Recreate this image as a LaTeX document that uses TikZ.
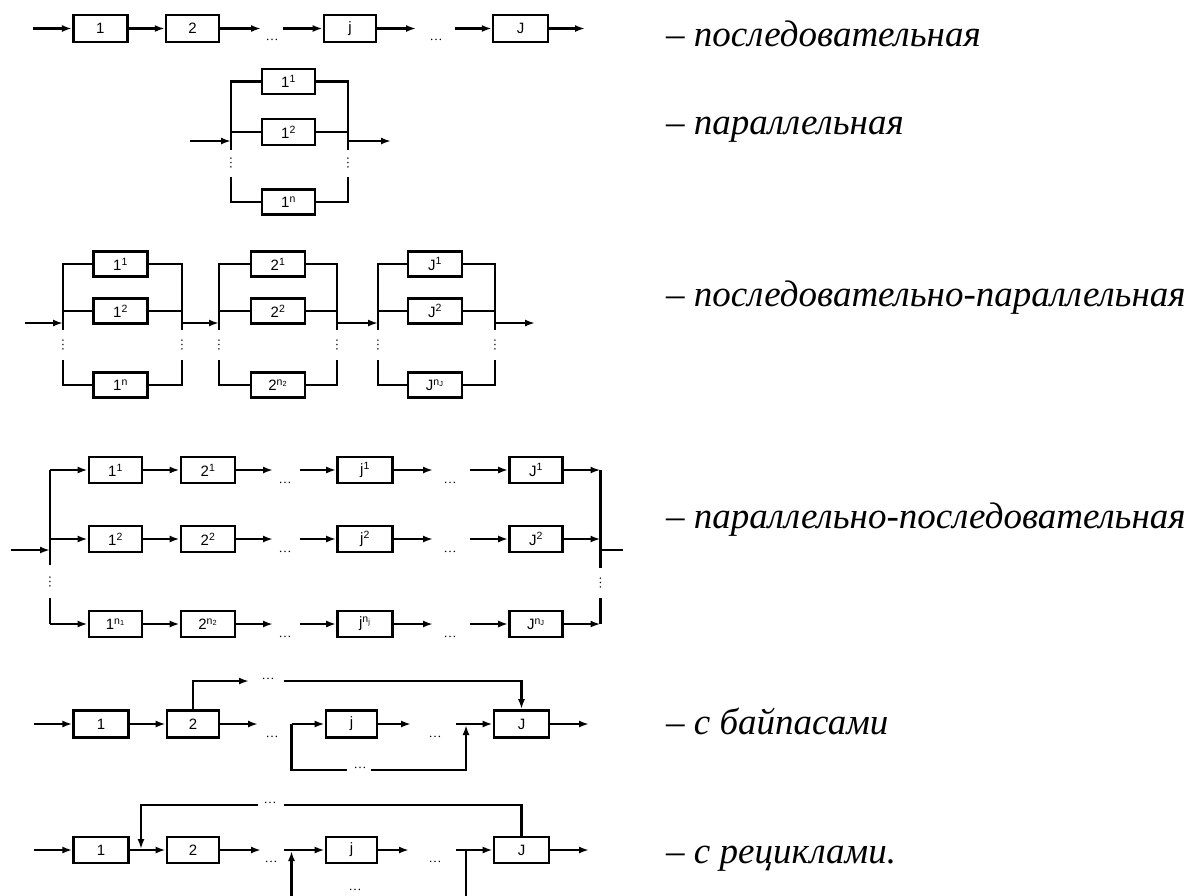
\documentclass[tikz,border=0pt]{standalone}
\usepackage{fontspec}
\setmainfont{Liberation Serif}
\newfontfamily\lblfont{Liberation Sans}
\usetikzlibrary{arrows.meta}
\tikzset{
  blk/.style={draw, line width=2.7pt, minimum width=54pt, minimum height=26pt, inner sep=0pt,
    font=\lblfont\fontsize{15}{15}\selectfont},
  ln/.style={line width=2.5pt},
  arr/.style={line width=2.5pt, -{Latex[length=10pt,width=7pt]}},
  dts/.style={inner sep=0pt, font=\fontsize{13}{13}\selectfont},
  vdts/.style={inner sep=0pt, font=\fontsize{13}{13}\selectfont, rotate=90},
  captxt/.style={anchor=base west, inner sep=0pt, font=\fontsize{37}{42}\selectfont\itshape},
}
\begin{document}
\begin{tikzpicture}[x=1pt,y=-1pt]
\useasboundingbox (0,0) rectangle (1196,895);

% ---------- series ----------
\node[blk, minimum width=54pt, minimum height=27pt] (s1) at (100.3,28.5) {1};
\node[blk, minimum width=53pt, minimum height=27pt] (s2) at (192.6,28.5) {2};
\node[blk, minimum width=52pt, minimum height=27pt] (sj) at (350,28.5) {j};
\node[blk, minimum width=55pt, minimum height=27pt] (sJ) at (520.6,28.5) {J};
\coordinate (s0) at (33,28.5);
\coordinate (s2e) at (261,28.5);
\coordinate (sjs) at (283,28.5);
\coordinate (sje) at (416,28.5);
\coordinate (sJs) at (455,28.5);
\coordinate (sout) at (585,28.5);
\node[dts] (sd1) at (272,40) {\ldots};
\node[dts] (sd2) at (436,40) {\ldots};
\draw[arr] (s0) -- (s1);
\draw[arr] (s1) -- (s2);
\draw[arr] (s2) -- (s2e);
\draw[arr] (sjs) -- (sj);
\draw[arr] (sj) -- (sje);
\draw[arr] (sJs) -- (sJ);
\draw[arr] (sJ) -- (sout);

% ---------- parallel ----------
\node[blk, minimum width=53pt, minimum height=25pt] (p1) at (288.5,81.5) {1\textsuperscript{1}};
\node[blk, minimum width=53pt, minimum height=26pt] (p2) at (288.5,132) {1\textsuperscript{2}};
\node[blk, minimum width=53pt, minimum height=25pt] (pn) at (288.5,202) {1\textsuperscript{n}};
\coordinate (pLt) at (231,81.5); \coordinate (pLm) at (231,150);
\coordinate (pLb) at (231,177);  \coordinate (pLn) at (231,202);
\coordinate (pRt) at (348,81.5); \coordinate (pRm) at (348,150);
\coordinate (pRb) at (348,177);  \coordinate (pRn) at (348,202);
\coordinate (pin) at (190,141);  \coordinate (pLi) at (231,141);
\coordinate (pRi) at (348,141);  \coordinate (pout) at (391,141);
\draw[ln] (p1) -- (pLt) -- (pLm);
\draw[ln] (p2) -- (p2 -| pLt);
\draw[ln] (pLb) -- (pLn) -- (pn);
\draw[ln] (p1) -- (pRt) -- (pRm);
\draw[ln] (p2) -- (p2 -| pRt);
\draw[ln] (pRb) -- (pRn) -- (pn);
\draw[arr] (pin) -- (pLi);
\draw[arr] (pRi) -- (pout);
\node[vdts] (pdl) at (231,163) {\ldots};
\node[vdts] (pdr) at (348,163) {\ldots};

% ---------- series-parallel ----------
\foreach \g/\L/\R/\C/\t/\n in {1/63/182/120.5/1/n, 2/219/337/278/2/n\textsubscript{2}, 3/378/495/435/J/n\textsubscript{J}}{
  \node[blk, minimum width=54pt, minimum height=25pt] (qa\g) at (\C,264) {\t\textsuperscript{1}};
  \node[blk, minimum width=54pt, minimum height=25pt] (qb\g) at (\C,311) {\t\textsuperscript{2}};
  \node[blk, minimum width=54pt, minimum height=25pt] (qc\g) at (\C,385) {\t\textsuperscript{\n}};
  \coordinate (qLa\g) at (\L,264); \coordinate (qLm\g) at (\L,330);
  \coordinate (qLb\g) at (\L,360); \coordinate (qLc\g) at (\L,385);
  \coordinate (qRa\g) at (\R,264); \coordinate (qRm\g) at (\R,330);
  \coordinate (qRb\g) at (\R,360); \coordinate (qRc\g) at (\R,385);
  \coordinate (qLi\g) at (\L,323); \coordinate (qRi\g) at (\R,323);
  \draw[ln] (qa\g) -- (qLa\g) -- (qLm\g);
  \draw[ln] (qb\g) -- (qb\g -| qLa\g);
  \draw[ln] (qLb\g) -- (qLc\g) -- (qc\g);
  \draw[ln] (qa\g) -- (qRa\g) -- (qRm\g);
  \draw[ln] (qb\g) -- (qb\g -| qRa\g);
  \draw[ln] (qRb\g) -- (qRc\g) -- (qc\g);
  \node[vdts] (qdl\g) at (\L,345) {\ldots};
  \node[vdts] (qdr\g) at (\R,345) {\ldots};
}
\coordinate (qin) at (25,323);
\coordinate (qout) at (535,323);
\draw[arr] (qin) -- (qLi1);
\draw[arr] (qRi1) -- (qLi2);
\draw[arr] (qRi2) -- (qLi3);
\draw[arr] (qRi3) -- (qout);

% ---------- parallel-series ----------
\foreach \r/\y/\sa/\sb/\sc/\sd in {1/470/1/1/1/1, 2/539/2/2/2/2,
    3/624/n\textsubscript{1}/n\textsubscript{2}/n\textsubscript{j}/n\textsubscript{J}}{
  \node[blk, minimum width=53pt] (ra\r) at (115.5,\y) {1\textsuperscript{\sa}};
  \node[blk, minimum width=54pt] (rb\r) at (208,\y) {2\textsuperscript{\sb}};
  \node[blk, minimum width=55pt] (rc\r) at (365,\y) {j\textsuperscript{\sc}};
  \node[blk, minimum width=53pt] (rd\r) at (536,\y) {J\textsuperscript{\sd}};
  \coordinate (rL\r) at (50,\y);
  \coordinate (r2e\r) at (273,\y);
  \coordinate (rjs\r) at (300,\y);
  \coordinate (rje\r) at (433,\y);
  \coordinate (rJs\r) at (470,\y);
  \coordinate (rR\r) at (600.5,\y);
  \node[dts] (rd1\r) at (285,\y+13) {\ldots};
  \node[dts] (rd2\r) at (450,\y+13) {\ldots};
  \draw[arr] (rL\r) -- (ra\r);
  \draw[arr] (ra\r) -- (rb\r);
  \draw[arr] (rb\r) -- (r2e\r);
  \draw[arr] (rjs\r) -- (rc\r);
  \draw[arr] (rc\r) -- (rje\r);
  \draw[arr] (rJs\r) -- (rd\r);
  \draw[arr] (rd\r) -- (rR\r);
}
\coordinate (rLm) at (50,565);    \coordinate (rLb) at (50,598);
\coordinate (rRm) at (600.5,568); \coordinate (rRb) at (600.5,598);
\coordinate (rin) at (11,550);    \coordinate (rLi) at (50,550);
\coordinate (rRi) at (600.5,550); \coordinate (rout) at (623,550);
\draw[ln] (rL1) -- (rLm);
\draw[ln] (rLb) -- (rL3);
\draw[ln] (rR1) -- (rRm);
\draw[ln] (rRb) -- (rR3);
\node[vdts] (rdl) at (50,582) {\ldots};
\node[vdts] (rdr) at (600.5,583) {\ldots};
\draw[arr] (rin) -- (rLi);
\draw[ln] (rRi) -- (rout);

% ---------- bypass ----------
\node[blk, minimum width=54.5pt, minimum height=27pt] (b1) at (101,724) {1};
\node[blk, minimum width=52pt, minimum height=27pt] (b2) at (193,724) {2};
\node[blk, minimum width=51pt, minimum height=27pt] (bj) at (351.5,724) {j};
\node[blk, minimum width=55pt, minimum height=27pt] (bJ) at (521.5,724) {J};
\coordinate (bin) at (34,724);
\coordinate (b2e) at (258,724);
\coordinate (bjs) at (291.5,724);
\coordinate (bje) at (411,724);
\coordinate (bJs) at (456,724);
\coordinate (bout) at (589,724);
\node[dts] (bd1) at (272,737) {\ldots};
\node[dts] (bd2) at (435,737) {\ldots};
\draw[arr] (bin) -- (b1);
\draw[arr] (b1) -- (b2);
\draw[arr] (b2) -- (b2e);
\draw[arr] (bjs) -- (bj);
\draw[arr] (bj) -- (bje);
\draw[arr] (bJs) -- (bJ);
\draw[arr] (bJ) -- (bout);
\coordinate (bt1) at (193,681); \coordinate (bt2) at (249,681);
\coordinate (bt3) at (284,681); \coordinate (bt4) at (521.5,681);
\node[dts] (bd3) at (268,679) {\ldots};
\draw[arr] (b2) -- (bt1) -- (bt2);
\draw[arr] (bt3) -- (bt4) -- (bJ);
\coordinate (bl1) at (291.5,770); \coordinate (bl2) at (347,770);
\coordinate (bl3) at (371,770);   \coordinate (bl4) at (466,770);
\coordinate (bl5) at (466,725);
\node[dts] (bd4) at (360,768) {\ldots};
\draw[ln] (bjs) -- (bl1) -- (bl2);
\draw[arr] (bl3) -- (bl4) -- (bl5);

% ---------- recycle ----------
\node[blk, minimum width=54.5pt, minimum height=26pt] (c1) at (101,850) {1};
\node[blk, minimum width=52pt, minimum height=26pt] (c2) at (193,850) {2};
\node[blk, minimum width=51pt, minimum height=26pt] (cj) at (351.5,850) {j};
\node[blk, minimum width=55pt, minimum height=26pt] (cJ) at (521.5,850) {J};
\coordinate (cin) at (34,850);
\coordinate (c2e) at (261,850);
\coordinate (cjs) at (284,850);
\coordinate (cje) at (409,850);
\coordinate (cJs) at (456,850);
\coordinate (cout) at (589,850);
\node[dts] (cd1) at (271,862) {\ldots};
\node[dts] (cd2) at (435,862) {\ldots};
\draw[arr] (cin) -- (c1);
\draw[arr] (c1) -- (c2);
\draw[arr] (c2) -- (c2e);
\draw[arr] (cjs) -- (cj);
\draw[arr] (cj) -- (cje);
\draw[arr] (cJs) -- (cJ);
\draw[arr] (cJ) -- (cout);
\coordinate (ct1) at (521.5,805); \coordinate (ct2) at (284,805);
\coordinate (ct3) at (258,805);   \coordinate (ct4) at (141,805);
\coordinate (ct5) at (141,849);
\node[dts] (cd3) at (270,803) {\ldots};
\draw[ln] (cJ) -- (ct1) -- (ct2);
\draw[arr] (ct3) -- (ct4) -- (ct5);
\coordinate (cv1) at (466,850);   \coordinate (cv2) at (466,896);
\coordinate (cv3) at (291.5,896); \coordinate (cv4) at (291.5,851);
\node[dts] (cd4) at (355,890) {\ldots};
\draw[ln] (cv1) -- (cv2);
\draw[arr] (cv3) -- (cv4);

% ---------- captions ----------
\node[captxt] (t1) at (666,46) {– последовательная};
\node[captxt] (t2) at (666,134) {– параллельная};
\node[captxt] (t3) at (666,306) {– последовательно-параллельная};
\node[captxt] (t4) at (666,528) {– параллельно-последовательная};
\node[captxt] (t5) at (666,734) {– с байпасами};
\node[captxt] (t6) at (666,863) {– с рециклами.};
\end{tikzpicture}
\end{document}
